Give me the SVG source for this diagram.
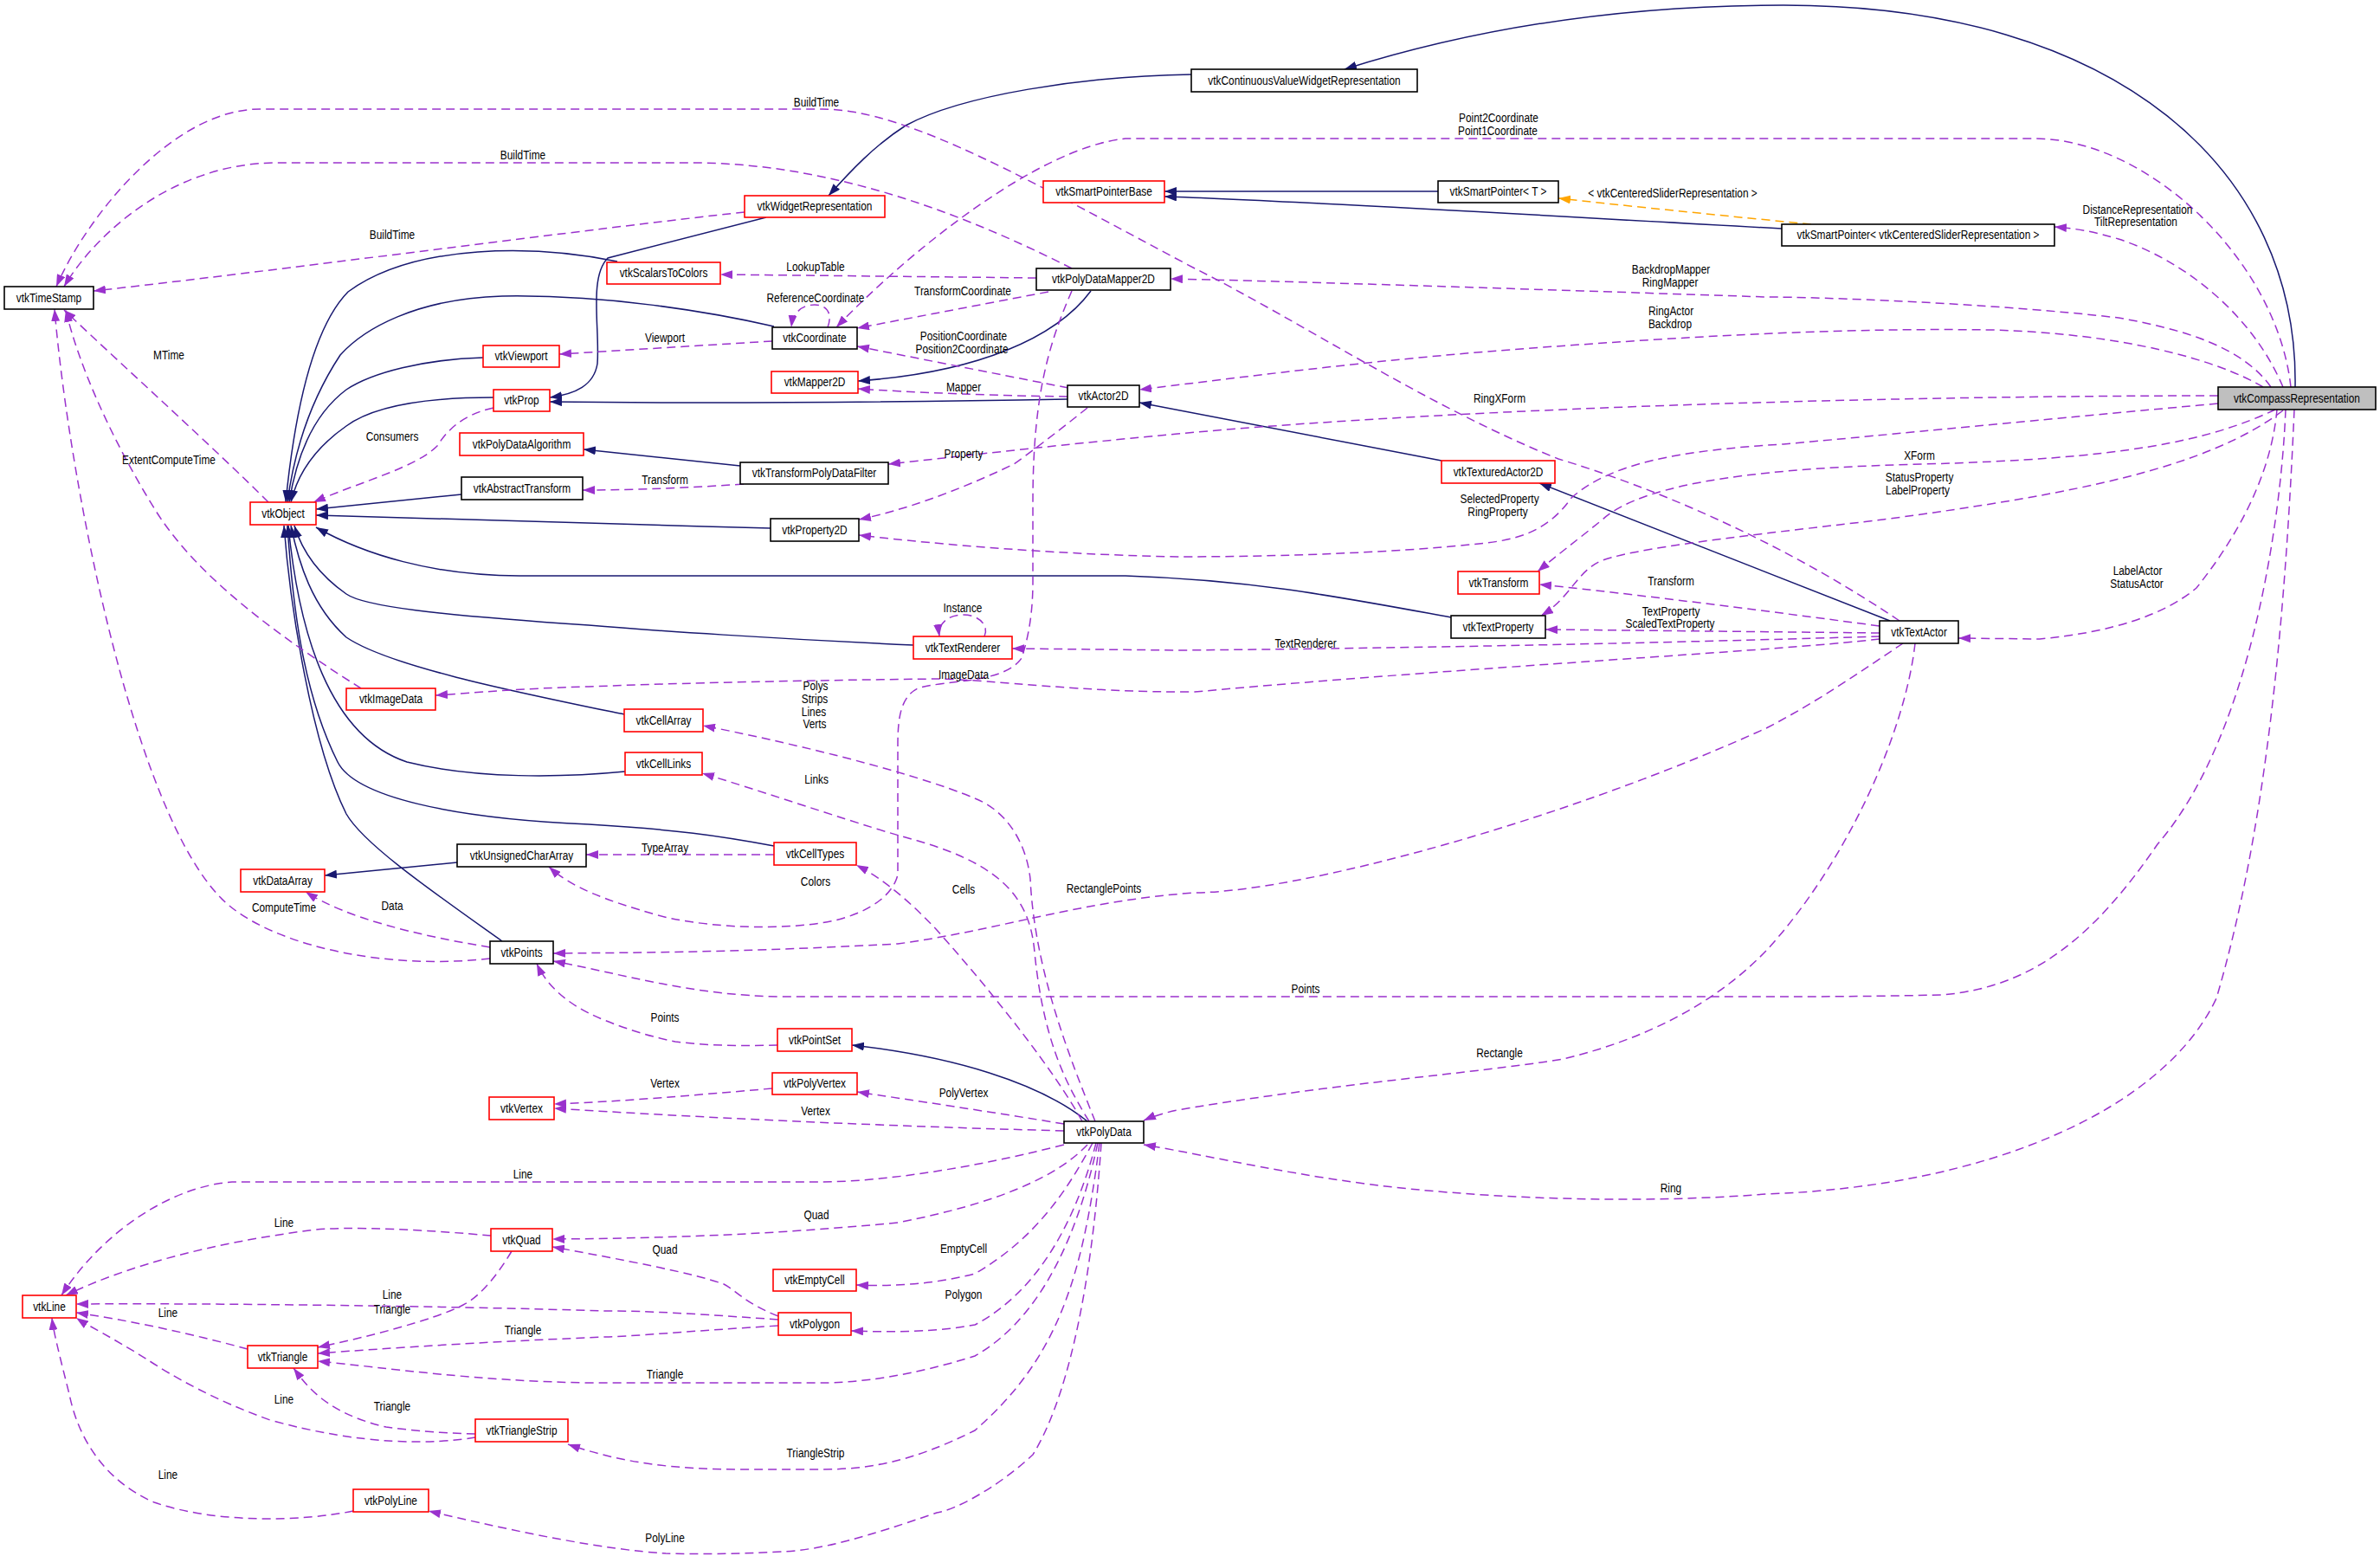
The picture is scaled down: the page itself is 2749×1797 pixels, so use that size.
<svg xmlns="http://www.w3.org/2000/svg" width="2749" height="1797" viewBox="0 0 2749 1797">
<style>
text { font-family: "Liberation Sans", Arial, sans-serif; font-size: 14.5px; fill: #000; text-anchor: middle; transform-box: fill-box; transform-origin: center; transform: scaleX(0.82); }
.node rect { fill: #fff; stroke-width: 1.6; }
.r rect { stroke: #ff0000; }
.k rect { stroke: #000; }
.inh { fill: none; stroke: #191970; stroke-width: 1.5; marker-end: url(#an); }
.use { fill: none; stroke: #9a32cd; stroke-width: 1.5; stroke-dasharray: 10,6; marker-end: url(#ap); }
.tpl { fill: none; stroke: #ffa500; stroke-width: 1.5; stroke-dasharray: 10,6; marker-end: url(#ao); }
</style>
<defs>
<marker id="an" viewBox="0 0 14 10" markerWidth="14" markerHeight="10" refX="14" refY="5" orient="auto" markerUnits="userSpaceOnUse"><path d="M0,0 L14,5 L0,10 z" fill="#191970"/></marker>
<marker id="ap" viewBox="0 0 14 10" markerWidth="14" markerHeight="10" refX="14" refY="5" orient="auto" markerUnits="userSpaceOnUse"><path d="M0,0 L14,5 L0,10 z" fill="#9a32cd"/></marker>
<marker id="ao" viewBox="0 0 14 10" markerWidth="14" markerHeight="10" refX="14" refY="5" orient="auto" markerUnits="userSpaceOnUse"><path d="M0,0 L14,5 L0,10 z" fill="#ffa500"/></marker>
</defs>
<rect x="0" y="0" width="2749" height="1797" fill="#fff"/>
<g id="edges">
<!-- inheritance -->
<path class="inh" d="M2651,447 C2655,200 2450,6 2060,6 C1850,6 1680,40 1553,80"/>
<path class="inh" d="M1376,86 C1250,88 1110,110 1046,145 C1010,168 982,198 957,226"/>
<path class="inh" d="M885,251 L702,298 C680,320 693,380 690,420 C686,445 665,455 635,459"/>
<path class="inh" d="M713,302 C620,283 480,280 402,337 C360,380 340,480 330,580"/>
<path class="inh" d="M894,377 C820,360 700,340 580,342 C480,345 420,380 393,410 C360,460 340,520 332,580"/>
<path class="inh" d="M558,413 C490,415 430,430 400,450 C360,480 342,530 334,580"/>
<path class="inh" d="M570,459 C490,459 430,470 400,492 C360,520 343,550 336,580"/>
<path class="inh" d="M533,571 L365,588"/>
<path class="inh" d="M890,610 C700,605 500,598 365,595"/>
<path class="inh" d="M1676,713 C1550,690 1450,670 1300,665 L600,665 C500,665 420,640 365,609"/>
<path class="inh" d="M1055,745 C900,738 750,728 680,722 C500,710 420,700 400,686 C370,665 350,640 340,607"/>
<path class="inh" d="M721,825 C600,800 450,770 400,736 C360,700 345,650 336,607"/>
<path class="inh" d="M722,891 C650,898 550,900 470,880 C380,850 345,730 333,607"/>
<path class="inh" d="M894,977 C830,965 780,958 680,952 C520,945 410,920 390,880 C350,800 338,700 332,607"/>
<path class="inh" d="M580,1087 C500,1030 420,975 400,940 C360,860 335,700 328,607"/>
<path class="inh" d="M855,538 L674,519"/>
<path class="inh" d="M1233,461 C1000,465 800,466 635,464"/>
<path class="inh" d="M1260,336 C1220,390 1130,430 991,440"/>
<path class="inh" d="M1661,221 L1345,221"/>
<path class="inh" d="M2058,264 C1800,250 1500,232 1345,227"/>
<path class="inh" d="M2183,717 L1778,558"/>
<path class="inh" d="M1665,532 L1316,465"/>
<path class="inh" d="M1256,1295 C1200,1250 1100,1220 984,1207"/>
<path class="inh" d="M528,996 L375,1011"/>
<!-- template -->
<path class="tpl" d="M2092,259 C2000,250 1900,240 1800,229"/>
<!-- usage -->
<path class="use" d="M860,245 C700,262 300,315 108,336"/>
<path class="use" d="M1238,310 C1100,240 950,188 800,188 L320,188 C200,188 110,270 74,331"/>
<path class="use" d="M2194,717 C2050,620 1900,560 1800,530 C1650,470 1500,370 1380,310 C1200,215 1050,126 950,126 L300,126 C200,126 100,250 65,331"/>
<path class="use" d="M310,580 C250,520 150,430 74,358"/>
<path class="use" d="M417,795 C330,740 230,670 180,590 C130,510 90,420 76,358"/>
<path class="use" d="M566,1107 C450,1120 330,1095 270,1050 C160,970 80,560 63,357"/>
<path class="use" d="M566,1094 C480,1080 400,1060 353,1030"/>
<path class="use" d="M2646,447 C2630,300 2480,160 2350,160 L1300,160 C1200,170 1050,290 966,378"/>
<path class="use" d="M1197,321 L832,317"/>
<path class="use" d="M1211,337 L990,379"/>
<path class="use" d="M956,378 C962,362 955,352 941,352 C927,352 916,360 914,378"/>
<path class="use" d="M1234,448 L990,400"/>
<path class="use" d="M1233,458 C1150,457 1050,453 991,449"/>
<path class="use" d="M892,394 L646,409"/>
<path class="use" d="M570,471 C530,480 515,500 505,515 C480,540 420,555 362,580"/>
<path class="use" d="M2637,447 C2600,360 2520,300 2447,276 C2420,268 2400,264 2373,262"/>
<path class="use" d="M2623,447 C2590,400 2520,380 2447,367 C2300,350 2100,343 2040,343 C1800,335 1500,325 1352,322"/>
<path class="use" d="M2614,447 C2560,415 2450,385 2300,381 C2100,378 1900,392 1717,406 C1550,420 1400,440 1316,450"/>
<path class="use" d="M2562,457 C2200,457 1700,470 1360,501 C1200,516 1100,528 1026,536"/>
<path class="use" d="M2562,466 C2300,490 2150,505 2060,513 C1940,520 1860,535 1815,575 C1790,610 1760,622 1717,627 C1600,640 1450,643 1360,643 C1200,640 1050,625 992,618"/>
<path class="use" d="M2628,473 C2550,510 2450,530 2221,536 C2050,540 1900,555 1851,600 C1820,625 1800,640 1776,660"/>
<path class="use" d="M2637,474 C2550,540 2400,570 2175,600 C2060,614 1900,630 1851,647 C1820,660 1815,690 1780,711"/>
<path class="use" d="M2171,723 C2000,700 1850,682 1778,675"/>
<path class="use" d="M2171,731 L1785,727"/>
<path class="use" d="M2171,735 C2000,740 1700,748 1360,751 L1169,749"/>
<path class="use" d="M2171,738 C2050,752 1700,770 1380,799 C1250,800 1150,785 1082,784 C900,786 750,790 680,793 C600,795 550,800 503,803"/>
<path class="use" d="M1137,735 C1143,722 1130,710 1113,710 C1095,710 1083,720 1085,735"/>
<path class="use" d="M1238,336 C1210,400 1193,460 1193,580 L1193,671 C1193,700 1190,730 1180,760 C1160,790 1090,785 1060,795 C1040,805 1037,830 1037,860 L1037,1010 C1030,1040 990,1060 948,1066 C880,1076 800,1068 760,1057 C700,1040 660,1025 634,1001"/>
<path class="use" d="M894,987 L677,987"/>
<path class="use" d="M1265,1295 C1235,1220 1195,1120 1190,1015 C1185,970 1160,935 1126,922 C1050,890 900,855 812,838"/>
<path class="use" d="M1258,1295 C1230,1250 1205,1200 1195,1100 C1190,1040 1160,1000 1060,971 C1000,955 900,920 811,893"/>
<path class="use" d="M1250,1295 C1220,1240 1150,1150 1082,1074 C1050,1040 1020,1015 989,999"/>
<path class="use" d="M2198,743 C2150,775 2100,810 2040,841 C1800,950 1500,1030 1380,1031 C1250,1040 1150,1075 1037,1090 C850,1100 750,1100 639,1101"/>
<path class="use" d="M2640,473 C2635,600 2600,850 2492,975 C2420,1080 2350,1140 2243,1149 C2150,1151 2100,1151 2040,1151 L903,1151 C800,1150 720,1125 639,1110"/>
<path class="use" d="M2212,743 C2200,850 2130,1000 2040,1098 C1980,1160 1900,1200 1806,1223 C1700,1240 1550,1250 1360,1282 C1345,1285 1330,1290 1321,1294"/>
<path class="use" d="M2650,473 C2640,700 2620,950 2560,1153 C2500,1280 2300,1370 2040,1379 C1900,1390 1750,1385 1628,1373 C1500,1360 1400,1335 1321,1322"/>
<path class="use" d="M2630,473 C2625,530 2600,600 2537,679 C2500,710 2440,730 2356,738 L2262,737"/>
<path class="use" d="M1229,1298 C1150,1285 1050,1270 990,1261"/>
<path class="use" d="M1229,1306 C1000,1300 800,1290 640,1280"/>
<path class="use" d="M892,1257 C800,1265 720,1272 640,1275"/>
<path class="use" d="M1229,1322 C1100,1355 1000,1365 948,1365 L268,1365 C200,1370 120,1420 71,1496"/>
<path class="use" d="M1256,1322 C1220,1360 1150,1390 1037,1412 C900,1425 780,1430 638,1431"/>
<path class="use" d="M567,1427 C500,1421 400,1415 357,1421 C250,1435 150,1460 76,1496"/>
<path class="use" d="M591,1445 C570,1480 550,1500 535,1507 C500,1525 420,1545 367,1556"/>
<path class="use" d="M899,1524 C800,1517 750,1514 700,1514 C500,1508 250,1505 88,1506"/>
<path class="use" d="M899,1531 C800,1537 720,1544 700,1544 C550,1550 450,1557 367,1563"/>
<path class="use" d="M899,1520 C860,1505 850,1490 836,1483 C800,1470 720,1455 638,1440"/>
<path class="use" d="M1262,1320 C1230,1380 1193,1432 1126,1471 C1080,1483 1030,1486 989,1484"/>
<path class="use" d="M1266,1320 C1240,1420 1193,1495 1126,1530 C1070,1540 1020,1538 983,1537"/>
<path class="use" d="M1268,1320 C1240,1450 1190,1530 1126,1566 C1050,1590 990,1597 948,1597 L680,1597 C550,1595 450,1580 367,1572"/>
<path class="use" d="M1270,1320 C1250,1480 1220,1570 1126,1652 C1050,1690 1000,1697 948,1697 L858,1697 C780,1697 720,1690 656,1668"/>
<path class="use" d="M549,1656 C500,1655 460,1650 446,1648 C410,1640 380,1625 360,1605 C350,1595 345,1588 339,1580"/>
<path class="use" d="M549,1660 C500,1668 420,1670 312,1640 C250,1618 200,1590 170,1570 C130,1545 100,1530 88,1522"/>
<path class="use" d="M286,1558 C220,1540 150,1525 88,1516"/>
<path class="use" d="M408,1745 C350,1757 250,1760 178,1735 C120,1710 90,1660 80,1610 C70,1570 62,1540 60,1522"/>
<path class="use" d="M1272,1320 C1260,1500 1230,1620 1193,1680 C1150,1720 1100,1745 1082,1747 C1000,1775 950,1790 903,1792 C850,1795 800,1795 769,1794 C700,1790 600,1770 495,1745"/>
<path class="use" d="M898,1207 C860,1208 820,1208 780,1203 C740,1195 700,1180 680,1170 C650,1155 630,1135 620,1113"/>
<path class="use" d="M1256,471 C1220,500 1180,530 1171,536 C1100,570 1040,590 992,600"/>
<path class="use" d="M859,559 C800,563 740,566 673,566"/>
<!-- labels -->
<text x="453" y="276">BuildTime</text>
<text x="604" y="184">BuildTime</text>
<text x="943" y="123">BuildTime</text>
<text x="195" y="415">MTime</text>
<text x="195" y="536">ExtentComputeTime</text>
<text x="328" y="1053">ComputeTime</text>
<text x="453" y="1051">Data</text>
<text x="1731" y="141">Point2Coordinate</text>
<text x="1730" y="156">Point1Coordinate</text>
<text x="942" y="313">LookupTable</text>
<text x="1112" y="341">TransformCoordinate</text>
<text x="942" y="349">ReferenceCoordinate</text>
<text x="1113" y="393">PositionCoordinate</text>
<text x="1111" y="408">Position2Coordinate</text>
<text x="1113" y="452">Mapper</text>
<text x="768" y="395">Viewport</text>
<text x="453" y="509">Consumers</text>
<text x="2469" y="247">DistanceRepresentation</text>
<text x="2467" y="261">TiltRepresentation</text>
<text x="1930" y="316">BackdropMapper</text>
<text x="1929" y="331">RingMapper</text>
<text x="1930" y="364">RingActor</text>
<text x="1929" y="379">Backdrop</text>
<text x="1732" y="465">RingXForm</text>
<text x="1732" y="581">SelectedProperty</text>
<text x="1730" y="596">RingProperty</text>
<text x="2217" y="531">XForm</text>
<text x="2217" y="556">StatusProperty</text>
<text x="2215" y="571">LabelProperty</text>
<text x="1930" y="676">Transform</text>
<text x="1930" y="711">TextProperty</text>
<text x="1929" y="725">ScaledTextProperty</text>
<text x="1508" y="748">TextRenderer</text>
<text x="1113" y="784">ImageData</text>
<text x="1112" y="707">Instance</text>
<text x="942" y="1023">Colors</text>
<text x="768" y="984">TypeArray</text>
<text x="942" y="797">Polys</text>
<text x="941" y="812">Strips</text>
<text x="940" y="827">Lines</text>
<text x="941" y="841">Verts</text>
<text x="943" y="905">Links</text>
<text x="1113" y="1032">Cells</text>
<text x="1275" y="1031">RectanglePoints</text>
<text x="1508" y="1147">Points</text>
<text x="1732" y="1221">Rectangle</text>
<text x="1930" y="1377">Ring</text>
<text x="2469" y="664">LabelActor</text>
<text x="2468" y="679">StatusActor</text>
<text x="1113" y="1267">PolyVertex</text>
<text x="942" y="1288">Vertex</text>
<text x="768" y="1256">Vertex</text>
<text x="604" y="1361">Line</text>
<text x="943" y="1408">Quad</text>
<text x="328" y="1417">Line</text>
<text x="453" y="1500">Line</text>
<text x="453" y="1517">Triangle</text>
<text x="604" y="1541">Triangle</text>
<text x="768" y="1448">Quad</text>
<text x="1113" y="1447">EmptyCell</text>
<text x="1113" y="1500">Polygon</text>
<text x="768" y="1592">Triangle</text>
<text x="942" y="1683">TriangleStrip</text>
<text x="453" y="1629">Triangle</text>
<text x="328" y="1621">Line</text>
<text x="194" y="1521">Line</text>
<text x="194" y="1708">Line</text>
<text x="768" y="1781">PolyLine</text>
<text x="768" y="1180">Points</text>
<text x="1113" y="529">Property</text>
<text x="768" y="559">Transform</text>
<text x="1932" y="228">&lt; vtkCenteredSliderRepresentation &gt;</text>
</g>
<g id="vtkCompassRepresentation" class="node k"><rect x="2562" y="447" width="182" height="26" style="fill:#bfbfbf"/><text x="2653" y="465">vtkCompassRepresentation</text></g>
<g id="vtkContinuousValueWidgetRepresentation" class="node k"><rect x="1376" y="80" width="261" height="26"/><text x="1506.5" y="98">vtkContinuousValueWidgetRepresentation</text></g>
<g id="vtkWidgetRepresentation" class="node r"><rect x="860" y="226" width="162" height="25"/><text x="941" y="243.5">vtkWidgetRepresentation</text></g>
<g id="vtkSmartPointerBase" class="node r"><rect x="1205" y="209" width="140" height="25"/><text x="1275" y="226.5">vtkSmartPointerBase</text></g>
<g id="vtkSmartPointer_T" class="node k"><rect x="1661" y="209" width="139" height="25"/><text x="1730.5" y="226.5">vtkSmartPointer&lt; T &gt;</text></g>
<g id="vtkSmartPointer_Centered" class="node k"><rect x="2058" y="259" width="315" height="25"/><text x="2215.5" y="276.5">vtkSmartPointer&lt; vtkCenteredSliderRepresentation &gt;</text></g>
<g id="vtkTimeStamp" class="node k"><rect x="5" y="331" width="103" height="26"/><text x="56.5" y="349">vtkTimeStamp</text></g>
<g id="vtkScalarsToColors" class="node r"><rect x="701" y="303" width="131" height="25"/><text x="766.5" y="320.5">vtkScalarsToColors</text></g>
<g id="vtkPolyDataMapper2D" class="node k"><rect x="1197" y="310" width="155" height="25"/><text x="1274.5" y="327.5">vtkPolyDataMapper2D</text></g>
<g id="vtkCoordinate" class="node k"><rect x="892" y="378" width="98" height="25"/><text x="941" y="395.5">vtkCoordinate</text></g>
<g id="vtkViewport" class="node r"><rect x="558" y="399" width="88" height="25"/><text x="602" y="416.5">vtkViewport</text></g>
<g id="vtkMapper2D" class="node r"><rect x="891" y="429" width="100" height="25"/><text x="941" y="446.5">vtkMapper2D</text></g>
<g id="vtkActor2D" class="node k"><rect x="1233" y="445" width="83" height="25"/><text x="1274.5" y="462.5">vtkActor2D</text></g>
<g id="vtkProp" class="node r"><rect x="570" y="450" width="65" height="25"/><text x="602.5" y="467.5">vtkProp</text></g>
<g id="vtkPolyDataAlgorithm" class="node r"><rect x="531" y="500" width="143" height="26"/><text x="602.5" y="518">vtkPolyDataAlgorithm</text></g>
<g id="vtkTransformPolyDataFilter" class="node k"><rect x="855" y="534" width="171" height="25"/><text x="940.5" y="551.5">vtkTransformPolyDataFilter</text></g>
<g id="vtkTexturedActor2D" class="node r"><rect x="1665" y="532" width="131" height="26"/><text x="1730.5" y="550">vtkTexturedActor2D</text></g>
<g id="vtkAbstractTransform" class="node k"><rect x="533" y="551" width="140" height="26"/><text x="603" y="569">vtkAbstractTransform</text></g>
<g id="vtkObject" class="node r"><rect x="289" y="580" width="76" height="26"/><text x="327" y="598">vtkObject</text></g>
<g id="vtkProperty2D" class="node k"><rect x="890" y="599" width="102" height="26"/><text x="941" y="617">vtkProperty2D</text></g>
<g id="vtkTransform" class="node r"><rect x="1684" y="660" width="94" height="26"/><text x="1731" y="678">vtkTransform</text></g>
<g id="vtkTextProperty" class="node k"><rect x="1676" y="711" width="109" height="26"/><text x="1730.5" y="729">vtkTextProperty</text></g>
<g id="vtkTextActor" class="node k"><rect x="2171" y="717" width="91" height="26"/><text x="2216.5" y="735">vtkTextActor</text></g>
<g id="vtkTextRenderer" class="node r"><rect x="1055" y="735" width="114" height="26"/><text x="1112" y="753">vtkTextRenderer</text></g>
<g id="vtkImageData" class="node r"><rect x="400" y="795" width="103" height="25"/><text x="451.5" y="812.5">vtkImageData</text></g>
<g id="vtkCellArray" class="node r"><rect x="721" y="819" width="91" height="26"/><text x="766.5" y="837">vtkCellArray</text></g>
<g id="vtkCellLinks" class="node r"><rect x="722" y="869" width="89" height="26"/><text x="766.5" y="887">vtkCellLinks</text></g>
<g id="vtkCellTypes" class="node r"><rect x="894" y="973" width="95" height="26"/><text x="941.5" y="991">vtkCellTypes</text></g>
<g id="vtkUnsignedCharArray" class="node k"><rect x="528" y="975" width="149" height="26"/><text x="602.5" y="993">vtkUnsignedCharArray</text></g>
<g id="vtkDataArray" class="node r"><rect x="278" y="1004" width="97" height="26"/><text x="326.5" y="1022">vtkDataArray</text></g>
<g id="vtkPoints" class="node k"><rect x="566" y="1087" width="73" height="26"/><text x="602.5" y="1105">vtkPoints</text></g>
<g id="vtkPointSet" class="node r"><rect x="898" y="1188" width="86" height="26"/><text x="941" y="1206">vtkPointSet</text></g>
<g id="vtkPolyVertex" class="node r"><rect x="892" y="1239" width="98" height="25"/><text x="941" y="1256.5">vtkPolyVertex</text></g>
<g id="vtkVertex" class="node r"><rect x="565" y="1267" width="75" height="26"/><text x="602.5" y="1285">vtkVertex</text></g>
<g id="vtkPolyData" class="node k"><rect x="1229" y="1295" width="92" height="25"/><text x="1275" y="1312.5">vtkPolyData</text></g>
<g id="vtkQuad" class="node r"><rect x="567" y="1419" width="71" height="26"/><text x="602.5" y="1437">vtkQuad</text></g>
<g id="vtkEmptyCell" class="node r"><rect x="893" y="1466" width="96" height="25"/><text x="941" y="1483.5">vtkEmptyCell</text></g>
<g id="vtkLine" class="node r"><rect x="26" y="1496" width="62" height="26"/><text x="57" y="1514">vtkLine</text></g>
<g id="vtkPolygon" class="node r"><rect x="899" y="1516" width="84" height="26"/><text x="941" y="1534">vtkPolygon</text></g>
<g id="vtkTriangle" class="node r"><rect x="286" y="1554" width="81" height="26"/><text x="326.5" y="1572">vtkTriangle</text></g>
<g id="vtkTriangleStrip" class="node r"><rect x="549" y="1639" width="107" height="26"/><text x="602.5" y="1657">vtkTriangleStrip</text></g>
<g id="vtkPolyLine" class="node r"><rect x="408" y="1720" width="87" height="26"/><text x="451.5" y="1738">vtkPolyLine</text></g>
</svg>
